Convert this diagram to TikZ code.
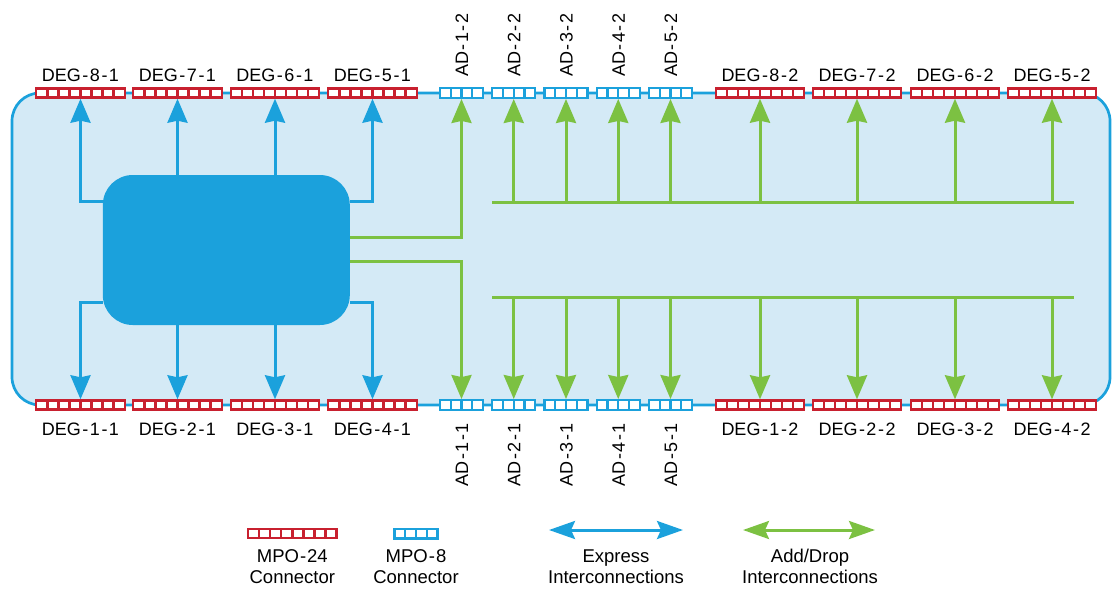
\documentclass[tikz,border=0pt]{standalone}
\usepackage{fontspec}
\setmainfont{Liberation Sans}
\usetikzlibrary{arrows.meta,calc}
\definecolor{panel}{HTML}{D4EAF6}
\definecolor{cblue}{HTML}{1BA1DC}
\definecolor{cred}{HTML}{C8202F}
\definecolor{cgreen}{HTML}{7CC142}
% spaced hyphen used in the port names
\newcommand\hy{\kern1.5pt-\kern1.5pt}
\tikzset{
  mpoA/.style={rectangle, draw=cred, fill=white, line width=2.4pt, inner sep=0pt,
    minimum width=88.5pt, minimum height=9pt,
    path picture={
      \foreach \i in {1,...,7}
        \draw[cred, line width=2.4pt]
          ($(path picture bounding box.south west)!\i/8!(path picture bounding box.south east)$) -- ++(0,-20);
    }},
  mpoB/.style={rectangle, draw=cblue, fill=white, line width=2.4pt, inner sep=0pt,
    minimum width=43pt, minimum height=9.5pt,
    path picture={
      \foreach \i in {1,...,3}
        \draw[cblue, line width=2.4pt]
          ($(path picture bounding box.south west)!\i/4!(path picture bounding box.south east)$) -- ++(0,-20);
    }},
  core/.style={rectangle, fill=cblue, rounded corners=30pt, minimum width=247pt, minimum height=150pt},
  lab/.style={inner sep=0pt, font=\fontsize{18}{20}\selectfont},
  leg/.style={inner sep=0pt, font=\fontsize{18.5}{20}\selectfont},
  exp/.style={cblue, line width=3pt, -{Stealth[width=20pt,length=24pt,inset=2pt]}},
  add/.style={cgreen, line width=3pt, -{Stealth[width=20pt,length=24pt,inset=2pt]}},
  busline/.style={cgreen, line width=3pt},
  legexp/.style={cblue, line width=3pt, {Stealth[width=18pt,length=26pt,inset=4pt]}-{Stealth[width=18pt,length=26pt,inset=4pt]}},
  legadd/.style={cgreen, line width=3pt, {Stealth[width=18pt,length=26pt,inset=4pt]}-{Stealth[width=18pt,length=26pt,inset=4pt]}},
}
\begin{document}
\begin{tikzpicture}[x=1pt,y=-1pt]
\useasboundingbox (0,0) rectangle (1113,589);

% shelf outline
\draw[cblue, line width=2.7pt, fill=panel, rounded corners=28pt] (12,93) rectangle (1110,405);

% central unit
\node[core] (core) at (226.3,250) {};

% degree connectors, side 1
\foreach \k/\x in {8/80.5,7/177.5,6/275,5/372.5}{
  \node[mpoA] (deg\k1) at (\x,93) {};
  \node[lab, anchor=base] (tdeg\k1) at (\x,81) {DEG\hy\k\hy1};
}
\foreach \k/\x in {1/80.5,2/177.5,3/275,4/372.5}{
  \node[mpoA] (deg\k1) at (\x,405) {};
  \node[lab, anchor=base] (tdeg\k1) at (\x,435) {DEG\hy\k\hy1};
}
% degree connectors, side 2
\foreach \k/\x in {8/760,7/857,6/955,5/1052}{
  \node[mpoA] (deg\k2) at (\x,93) {};
  \node[lab, anchor=base] (tdeg\k2) at (\x,81) {DEG\hy\k\hy2};
}
\foreach \k/\x in {1/760,2/857,3/955,4/1052}{
  \node[mpoA] (deg\k2) at (\x,405) {};
  \node[lab, anchor=base] (tdeg\k2) at (\x,435) {DEG\hy\k\hy2};
}
% add/drop connectors
\foreach \i in {1,...,5}{
  \pgfmathsetmacro\xx{461.5+52.25*(\i-1)}
  \node[mpoB] (ad\i2) at (\xx,93) {};
  \node[mpoB] (ad\i1) at (\xx,405) {};
  \node[lab, rotate=90, anchor=base west] (tad\i2) at (\xx+6.6,77) {AD\hy\i\hy2};
  \node[lab, rotate=90, anchor=base east] (tad\i1) at (\xx+6.6,423) {AD\hy\i\hy1};
}

% express interconnections
\draw[exp] ($(core.north west)+(0,27)$) -| (deg81.south);
\draw[exp] (core.north -| deg71) -- (deg71.south);
\draw[exp] (core.north -| deg61) -- (deg61.south);
\draw[exp] ($(core.north east)+(0,27)$) -| (deg51.south);
\draw[exp] ($(core.south west)+(0,-23)$) -| (deg11.north);
\draw[exp] (core.south -| deg21) -- (deg21.north);
\draw[exp] (core.south -| deg31) -- (deg31.north);
\draw[exp] ($(core.south east)+(0,-23)$) -| (deg41.north);

% add/drop interconnections
\draw[add] ($(core.east)+(0,-13)$) -| (ad12.south);
\draw[add] ($(core.east)+(0,11)$) -| (ad11.north);
\coordinate (busT) at (492,202.5);
\coordinate (busTe) at (1074,202.5);
\coordinate (busB) at (492,297);
\coordinate (busBe) at (1074,297);
\draw[busline] (busT) -- (busTe);
\draw[busline] (busB) -- (busBe);
\foreach \n in {ad22,ad32,ad42,ad52,deg82,deg72,deg62,deg52}
  \draw[add] (busT -| \n) -- (\n.south);
\foreach \n in {ad21,ad31,ad41,ad51,deg12,deg22,deg32,deg42}
  \draw[add] (busB -| \n) -- (\n.north);

% legend
\node[mpoA] (lg24) at (292.3,533.7) {};
\node[leg, anchor=base] (lg24a) at (292.3,562) {MPO\kern1pt-\kern1pt24};
\node[leg, anchor=base] (lg24b) at (292.3,583) {Connector};
\node[mpoB] (lg8) at (416,533.7) {};
\node[leg, anchor=base] (lg8a) at (416,562) {MPO\kern1pt-\kern1pt8};
\node[leg, anchor=base] (lg8b) at (416,583) {Connector};
\coordinate (ex1) at (549,530);
\coordinate (ex2) at (683,530);
\draw[legexp] (ex1) -- (ex2);
\node[leg, anchor=base] (lgexa) at (616,562) {Express};
\node[leg, anchor=base] (lgexb) at (616,583) {Interconnections};
\coordinate (ad1) at (743,530);
\coordinate (ad2) at (875,530);
\draw[legadd] (ad1) -- (ad2);
\node[leg, anchor=base] (lgada) at (810,562) {Add/Drop};
\node[leg, anchor=base] (lgadb) at (810,583) {Interconnections};
\end{tikzpicture}
\end{document}
